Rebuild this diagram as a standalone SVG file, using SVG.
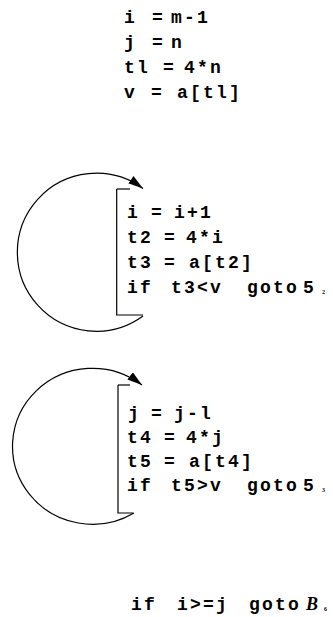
<svg xmlns="http://www.w3.org/2000/svg" width="333" height="617" viewBox="0 0 333 617">
<style>
.c{font-family:"Liberation Mono","DejaVu Sans Mono",monospace;font-weight:bold;font-size:18px;letter-spacing:2.2px;fill:#000}
.s{font-family:"Liberation Serif",serif;font-size:6px;letter-spacing:0}
.b{font-family:"Liberation Serif",serif;font-style:italic;font-weight:bold;font-size:18px;letter-spacing:0}
.ln{stroke:#000;stroke-width:1.2;fill:none}
</style>
<defs>
<marker id="ah" markerWidth="16" markerHeight="10" refX="15" refY="4.5" orient="auto" markerUnits="userSpaceOnUse">
<path d="M0,0 L15,4.5 L0,9 Z" fill="#000"/>
</marker>
</defs>
<rect width="333" height="617" fill="#fff"/>
<g id="B1">
<text class="c" y="23"><tspan x="124">i</tspan><tspan x="152">=</tspan><tspan x="171">m-1</tspan></text>
<text class="c" y="48"><tspan x="124">j</tspan><tspan x="152">=</tspan><tspan x="171">n</tspan></text>
<text class="c" y="73"><tspan x="124">tl</tspan><tspan x="163">=</tspan><tspan x="184">4*n</tspan></text>
<text class="c" y="98"><tspan x="124">v</tspan><tspan x="151">=</tspan><tspan x="177">a[tl]</tspan></text>
</g>
<g id="B2">
<text class="c" y="218"><tspan x="127">i</tspan><tspan x="151">=</tspan><tspan x="174">i+1</tspan></text>
<text class="c" y="243"><tspan x="127">t2</tspan><tspan x="164">=</tspan><tspan x="186">4*i</tspan></text>
<text class="c" y="268"><tspan x="127">t3</tspan><tspan x="164">=</tspan><tspan x="189">a[t2]</tspan></text>
<text class="c" y="293"><tspan x="127">if</tspan><tspan x="171">t3&lt;v</tspan><tspan x="247">goto</tspan><tspan x="303">5</tspan><tspan class="s" x="322" dy="1">2</tspan></text>
</g>
<g id="B3">
<text class="c" y="419"><tspan x="128">j</tspan><tspan x="151">=</tspan><tspan x="174">j-l</tspan></text>
<text class="c" y="443"><tspan x="127">t4</tspan><tspan x="164">=</tspan><tspan x="186">4*j</tspan></text>
<text class="c" y="467"><tspan x="127">t5</tspan><tspan x="164">=</tspan><tspan x="189">a[t4]</tspan></text>
<text class="c" y="491"><tspan x="127">if</tspan><tspan x="171">t5&gt;v</tspan><tspan x="247">goto</tspan><tspan x="303">5</tspan><tspan class="s" x="322" dy="1">3</tspan></text>
</g>
<g id="B4">
<text class="c" y="610"><tspan x="131">if</tspan><tspan x="177">i&gt;=j</tspan><tspan x="249">goto</tspan><tspan class="b" x="306">B</tspan><tspan class="s" x="324" dy="1">6</tspan></text>
</g>
<g id="connectors">
<path class="ln" d="M116.7,189 V315 H143"/>
<path class="ln" d="M116.7,189 H130"/>
<path class="ln" d="M143,316 A79,79 0 1 1 143,188.5" marker-end="url(#ah)"/>
<path class="ln" d="M118,385 V513 H133"/>
<path class="ln" d="M118,385 H130"/>
<path class="ln" d="M134,513 A80,78 0 1 1 142,385" marker-end="url(#ah)"/>
</g>
</svg>
